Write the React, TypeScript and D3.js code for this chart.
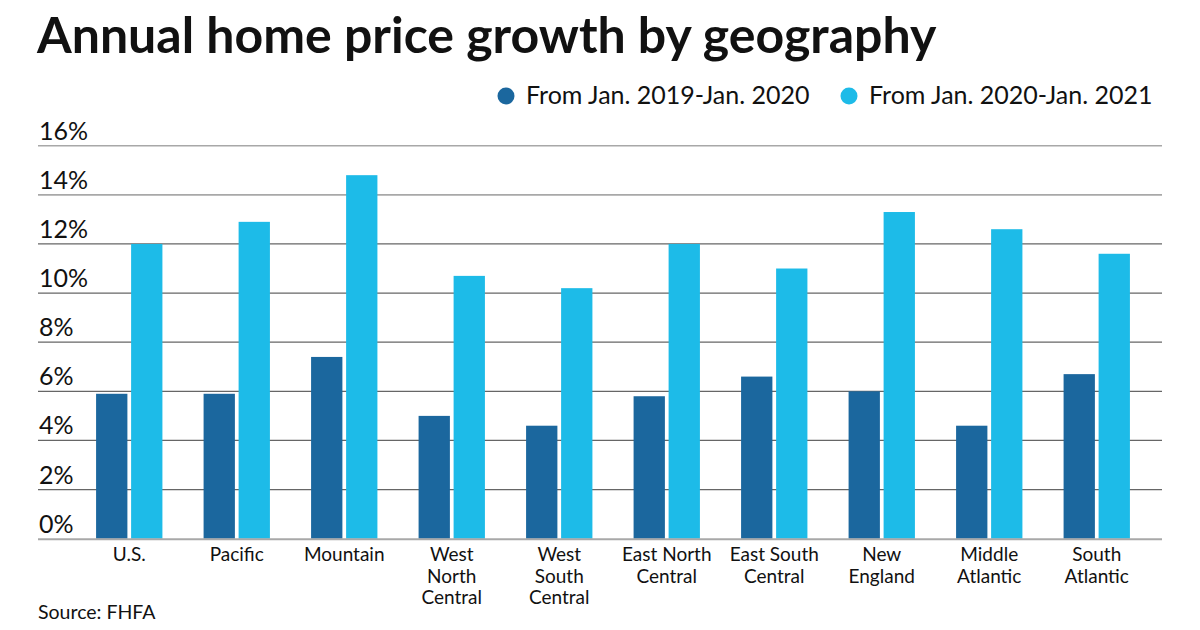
import React from "react";
import * as d3 from "d3";

const categories = [
  "U.S.",
  "Pacific",
  "Mountain",
  "West\nNorth\nCentral",
  "West\nSouth\nCentral",
  "East North\nCentral",
  "East South\nCentral",
  "New\nEngland",
  "Middle\nAtlantic",
  "South\nAtlantic",
];
const series = ["From Jan. 2019-Jan. 2020", "From Jan. 2020-Jan. 2021"];
const values2019 = [5.9, 5.9, 7.4, 5.0, 4.6, 5.8, 6.6, 6.0, 4.6, 6.7];
const values2020 = [12.0, 12.9, 14.8, 10.7, 10.2, 12.0, 11.0, 13.3, 12.6, 11.6];
const yTicks = [0, 2, 4, 6, 8, 10, 12, 14, 16];
const colors = ["#1b679e", "#1dbbe8"];

const W = 1200;
const H = 630;
const FONT = "Lato, 'Open Sans', sans-serif";

export default function App() {
  const y = d3.scaleLinear().domain([0, 16]).range([538.7, 145.7]);
  const x0 = d3
    .scaleBand<string>()
    .domain(categories)
    .range([75.5, 1150.5])
    .paddingInner(0.383)
    .paddingOuter(0.1915);
  const x1 = d3
    .scaleBand<string>()
    .domain(series)
    .range([0, x0.bandwidth()])
    .paddingInner(0.106);
  const data = [values2019, values2020];
  const gridLeft = 38;
  const gridRight = 1162;

  return (
    <svg
      width={W}
      height={H}
      style={{ position: "absolute", left: 0, top: 0, background: "#fff" }}
      fontFamily={FONT}
    >
      <rect x={0} y={0} width={W} height={H} fill="#fff" />
      <text x={37} y={53} fontSize={50} fontWeight={700} fill="#111">
        Annual home price growth by geography
      </text>

      {/* legend */}
      {series.map((s, i) => {
        const cx = i === 0 ? 506 : 849;
        return (
          <g key={s}>
            <circle cx={cx} cy={96} r={8.5} fill={colors[i]} />
            <text x={cx + 20} y={104} fontSize={25} fill="#111">
              {s}
            </text>
          </g>
        );
      })}

      {/* gridlines and y labels */}
      {yTicks.map((t) => {
        const isLight = t >= 14 || t === 0;
        return (
          <g key={t}>
            {t !== 0 && (
              <line
                x1={gridLeft}
                x2={gridRight}
                y1={y(t)}
                y2={y(t)}
                stroke={isLight ? "#a8a8a8" : "#666"}
                strokeWidth={isLight ? 1.6 : 1.2}
              />
            )}
            <text x={39} y={y(t) - 6} fontSize={25} fill="#111">
              {t}%
            </text>
          </g>
        );
      })}

      {/* bars */}
      {categories.map((c, ci) => (
        <g key={c} transform={`translate(${x0(c)},0)`}>
          {series.map((s, si) => {
            const v = data[si][ci];
            return (
              <rect
                key={s}
                x={x1(s)}
                y={y(v)}
                width={x1.bandwidth()}
                height={y(0) - y(v)}
                fill={colors[si]}
              />
            );
          })}
        </g>
      ))}

      {/* baseline */}
      <line
        x1={gridLeft}
        x2={gridRight}
        y1={y(0) + 0.5}
        y2={y(0) + 0.5}
        stroke="#a8a8a8"
        strokeWidth={2}
      />

      {/* x labels */}
      {categories.map((c) => {
        const cx = (x0(c) ?? 0) + x0.bandwidth() / 2;
        return (
          <text key={c} textAnchor="middle" fontSize={19} fill="#111">
            {c.split("\n").map((line, li) => (
              <tspan key={li} x={cx} y={561 + li * 21.5}>
                {line}
              </tspan>
            ))}
          </text>
        );
      })}

      <text x={38} y={619} fontSize={19.5} fill="#111">
        Source: FHFA
      </text>
    </svg>
  );
}
